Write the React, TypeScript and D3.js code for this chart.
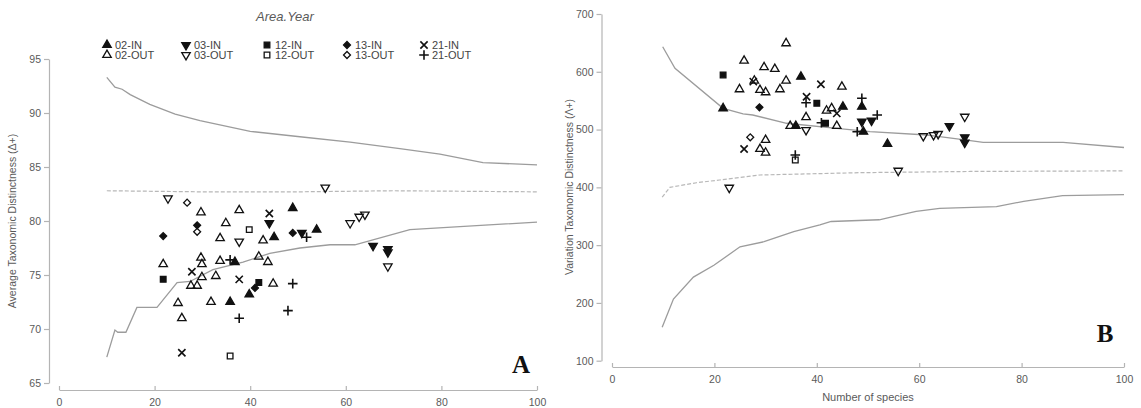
import * as d3 from 'd3';
import { useEffect, useRef } from 'react';

// Area.Year groups, order used by the legend (two rows)
const legendRows = [
  ['02-IN', '03-IN', '12-IN', '13-IN', '21-IN'],
  ['02-OUT', '03-OUT', '12-OUT', '13-OUT', '21-OUT'],
];

const speciesTicks = [0, 20, 40, 60, 80, 100];
const deltaTicks = [65, 70, 75, 80, 85, 90, 95];
const lambdaTicks = [100, 200, 300, 400, 500, 600, 700];

// Panel A: average taxonomic distinctness, [group, number of species, value]
const deltaPoints: [string, number, number][] = [
  ['13-IN', 21.8, 78.6], ['02-OUT', 21.8, 76.0], ['12-IN', 21.8, 74.6],
  ['03-OUT', 22.8, 82.1], ['13-OUT', 26.8, 81.7], ['02-OUT', 29.7, 80.8],
  ['13-IN', 28.9, 79.6], ['13-OUT', 28.9, 79.0], ['02-OUT', 34.9, 79.8],
  ['02-OUT', 37.7, 81.0], ['12-OUT', 39.8, 79.2], ['21-IN', 44.0, 80.7],
  ['03-IN', 44.0, 79.8], ['02-IN', 48.9, 81.2], ['13-IN', 48.9, 78.9],
  ['03-IN', 50.8, 78.9], ['21-OUT', 51.8, 78.5], ['02-IN', 53.9, 79.2],
  ['03-OUT', 55.7, 83.1], ['02-IN', 45.0, 78.5], ['02-OUT', 42.7, 78.2],
  ['03-OUT', 37.7, 78.1], ['02-OUT', 33.7, 78.4], ['02-OUT', 29.7, 76.6],
  ['02-OUT', 29.9, 76.0], ['21-IN', 27.8, 75.3], ['02-OUT', 29.9, 74.8],
  ['02-OUT', 27.6, 74.0], ['02-OUT', 28.9, 74.0], ['02-OUT', 32.8, 74.9],
  ['02-OUT', 33.7, 76.3], ['21-OUT', 35.8, 76.4], ['02-IN', 36.8, 76.2],
  ['21-IN', 37.7, 74.6], ['02-OUT', 41.8, 76.7], ['02-OUT', 43.7, 76.2],
  ['12-IN', 41.8, 74.3], ['13-IN', 41.0, 73.8], ['02-IN', 39.8, 73.2],
  ['02-OUT', 44.8, 74.2], ['21-OUT', 48.9, 74.2], ['21-OUT', 47.9, 71.7],
  ['02-OUT', 24.9, 72.4], ['02-OUT', 25.7, 71.0], ['02-OUT', 31.8, 72.5],
  ['02-IN', 35.8, 72.5], ['21-OUT', 37.7, 71.0], ['21-IN', 25.7, 67.8],
  ['12-OUT', 35.8, 67.5], ['03-OUT', 60.9, 79.8], ['03-OUT', 62.8, 80.4],
  ['03-OUT', 64.0, 80.6], ['03-IN', 65.7, 77.7], ['03-IN', 68.8, 77.4],
  ['03-IN', 68.8, 77.1], ['03-OUT', 68.8, 75.8],
];

// 95% probability funnel for Delta+
const deltaUpper: [number, number][] = [
  [10, 93.3], [11.7, 92.4], [13.2, 92.2], [14.9, 91.7], [19, 90.8],
  [24.3, 89.9], [29.5, 89.3], [40, 88.3], [50.4, 87.8], [60.9, 87.3],
  [71.3, 86.7], [79.7, 86.2], [88.7, 85.4], [100, 85.2],
];
const deltaMean: [number, number][] = [
  [10, 82.8], [30, 82.7], [50, 82.7], [70, 82.8], [100, 82.7],
];
const deltaLower: [number, number][] = [
  [10, 67.4], [11.7, 69.9], [12.3, 69.7], [14, 69.7], [16.3, 72.0],
  [20.5, 72.0], [24.7, 74.3], [27.4, 74.4], [32.2, 75.5], [38.5, 76.2],
  [44.1, 77.0], [50.4, 77.5], [56.7, 77.8], [61.9, 77.8], [73.4, 79.2],
  [100, 79.9],
];

// Panel B: variation in taxonomic distinctness
const lambdaPoints: [string, number, number][] = [
  ['12-IN', 21.7, 594.5], ['02-IN', 21.7, 536.8], ['02-OUT', 25.8, 619.2],
  ['02-OUT', 24.9, 569.7], ['02-OUT', 29.7, 607.8], ['02-OUT', 31.8, 604.9],
  ['02-OUT', 27.8, 584.6], ['21-IN', 27.6, 582.9], ['02-OUT', 28.9, 568.5],
  ['02-OUT', 30.0, 564.5], ['13-IN', 28.8, 538.6], ['02-OUT', 34.0, 649.3],
  ['02-OUT', 34.0, 584.6], ['02-OUT', 32.8, 569.7], ['02-IN', 36.9, 591.5],
  ['21-IN', 40.8, 578.4], ['02-OUT', 44.9, 574.2], ['21-IN', 38.0, 556.9],
  ['21-OUT', 37.9, 546.5], ['12-IN', 40.0, 545.5], ['02-OUT', 41.9, 532.7],
  ['02-OUT', 42.9, 536.8], ['02-IN', 45.1, 539.6], ['12-IN', 41.7, 510.9],
  ['21-OUT', 40.9, 511.9], ['02-OUT', 43.9, 506.2], ['21-IN', 43.9, 528.0],
  ['02-OUT', 34.8, 506.2], ['02-IN', 35.9, 506.2], ['02-OUT', 37.9, 521.3],
  ['03-OUT', 37.9, 499.3], ['12-OUT', 35.8, 447.4], ['21-OUT', 35.8, 456.0],
  ['13-OUT', 27.0, 486.6], ['21-IN', 25.8, 466.4], ['02-OUT', 30.0, 482.0],
  ['02-OUT', 28.9, 466.4], ['02-OUT', 30.0, 460.0], ['03-OUT', 22.9, 399.4],
  ['02-IN', 48.8, 539.6], ['21-OUT', 48.8, 554.1], ['03-IN', 48.8, 513.6],
  ['21-OUT', 47.9, 496.3], ['02-IN', 49.1, 496.3], ['03-IN', 50.7, 515.4],
  ['21-OUT', 51.8, 525.2], ['02-IN', 53.8, 475.0], ['03-OUT', 60.8, 488.9],
  ['03-OUT', 62.8, 490.6], ['03-OUT', 63.7, 492.4], ['03-IN', 65.9, 506.2],
  ['03-OUT', 68.9, 522.3], ['03-IN', 68.9, 486.6], ['03-IN', 68.9, 477.3],
  ['03-OUT', 55.9, 428.8],
];

const lambdaUpper: [number, number][] = [
  [9.9, 643.4], [12.3, 606], [21.7, 536.8], [25.6, 527], [27.5, 525.2],
  [34.1, 510.9], [43.9, 502.2], [50.4, 496.3], [61.5, 490.6], [64, 487.7],
  [68.9, 482], [72.5, 478], [88.1, 478], [100, 469],
];
const lambdaMean: [number, number][] = [
  [9.8, 383], [11.3, 400], [16.5, 408], [21, 412.7], [28.9, 421.4],
  [48.4, 425.4], [70, 427.5], [100, 428.5],
];
const lambdaLower: [number, number][] = [
  [9.8, 157.8], [12, 206.8], [15.9, 244.7], [19.9, 265.1], [25, 297.1],
  [29.7, 305.9], [35.5, 323.4], [40.6, 335], [42.8, 340.9], [52.2, 343.9],
  [55.1, 349.6], [59.4, 358.4], [64, 363.7], [75.1, 366.5], [80.4, 375.9],
  [88, 385.7], [100, 387.5],
];

const font = 'Arial, "Liberation Sans", sans-serif';
const axisGray = '#b4b4b4';
const textGray = '#5a5a5a';

const timesType = (d3 as any).symbolTimes || d3.symbolCross;
const plusType = (d3 as any).symbolPlus || d3.symbolCross;

// marker style for each Area.Year group
function marker(group: string) {
  const open = group.endsWith('OUT');
  const code = group.slice(0, 2);
  if (code === '02') return { type: d3.symbolTriangle, size: 31, rot: 0, open, stroke: false };
  if (code === '03') return { type: d3.symbolTriangle, size: 31, rot: 180, open, stroke: false };
  if (code === '12') return { type: d3.symbolSquare, size: 32, rot: 0, open, stroke: false };
  if (code === '13') return { type: d3.symbolSquare, size: 24, rot: 45, open, stroke: false };
  if (open) return { type: plusType, size: 32, rot: 0, open: true, stroke: true };
  return { type: timesType, size: 36, rot: 0, open: true, stroke: true };
}

function Marker({ group, cx, cy }: { group: string; cx: number; cy: number }) {
  const m = marker(group);
  const path = d3.symbol().type(m.type).size(m.size)() as string;
  return (
    <path
      d={path}
      transform={`translate(${cx},${cy}) rotate(${m.rot})`}
      fill={m.open ? 'none' : '#111'}
      stroke='#111'
      strokeWidth={m.stroke ? 1.6 : 1.3}
    />
  );
}

type PanelProps = {
  points: [string, number, number][];
  upper: [number, number][];
  mean: [number, number][];
  lower: [number, number][];
  xRange: [number, number];
  yDomain: [number, number];
  yRange: [number, number];
  yTicks: number[];
  yAxisX: number;
  xAxisY: number;
  letter: string;
  letterX: number;
  letterY: number;
};

function Panel(p: PanelProps) {
  const xRef = useRef<SVGGElement>(null);
  const yRef = useRef<SVGGElement>(null);

  const x = d3.scaleLinear().domain([0, 100]).range(p.xRange);
  const y = d3.scaleLinear().domain(p.yDomain).range(p.yRange);

  useEffect(() => {
    const xAxis = d3.axisBottom(x).tickValues(speciesTicks).tickSize(-4).tickSizeOuter(0).tickPadding(9);
    const yAxis = d3.axisLeft(y).tickValues(p.yTicks).tickSize(5).tickSizeOuter(0).tickPadding(3);
    [d3.select(xRef.current).call(xAxis as any), d3.select(yRef.current).call(yAxis as any)].forEach((g) => {
      g.attr('font-family', font).attr('font-size', 10.5);
      g.selectAll('path, line').attr('stroke', axisGray).attr('stroke-width', 1.2);
      g.selectAll('text').attr('fill', textGray);
    });
  }, []);

  const line = d3
    .line<[number, number]>()
    .x((d) => x(d[0]))
    .y((d) => y(d[1]));

  return (
    <g>
      <g ref={xRef} transform={`translate(0,${p.xAxisY})`} />
      <g ref={yRef} transform={`translate(${p.yAxisX},0)`} />
      <path d={line(p.upper) as string} fill='none' stroke='#9c9c9c' strokeWidth={1.3} />
      <path d={line(p.lower) as string} fill='none' stroke='#9c9c9c' strokeWidth={1.3} />
      <path d={line(p.mean) as string} fill='none' stroke='#b8b8b8' strokeWidth={1.2} strokeDasharray='4 2' />
      {p.points.map((d, i) => (
        <Marker key={i} group={d[0]} cx={x(d[1])} cy={y(d[2])} />
      ))}
      <text
        x={p.letterX}
        y={p.letterY}
        fontFamily='"Liberation Serif", "Times New Roman", serif'
        fontWeight='bold'
        fontSize={25}
        textAnchor='middle'
        fill='#111'
      >
        {p.letter}
      </text>
    </g>
  );
}

const legendX = [107, 186, 267, 347, 424];
const legendY = [45, 55];

export default function App() {
  useEffect(() => {
    document.body.style.margin = '0';
  }, []);

  return (
    <svg width={1141} height={408} style={{ display: 'block', background: '#fff' }}>
      <Panel
        points={deltaPoints}
        upper={deltaUpper}
        mean={deltaMean}
        lower={deltaLower}
        xRange={[59, 537]}
        yDomain={[65, 95]}
        yRange={[383, 59]}
        yTicks={deltaTicks}
        yAxisX={49}
        xAxisY={390}
        letter='A'
        letterX={521}
        letterY={373}
      />
      <Panel
        points={lambdaPoints}
        upper={lambdaUpper}
        mean={lambdaMean}
        lower={lambdaLower}
        xRange={[612, 1124]}
        yDomain={[100, 700]}
        yRange={[360.7, 14]}
        yTicks={lambdaTicks}
        yAxisX={601.5}
        xAxisY={367}
        letter='B'
        letterX={1105}
        letterY={342}
      />

      {/* axis titles */}
      <text
        transform='translate(16,221) rotate(-90)'
        textAnchor='middle'
        fontFamily={font}
        fontSize={10.5}
        fill={textGray}
      >
        Average Taxonomic Distinctness (Δ+)
      </text>
      <text
        transform='translate(573,187) rotate(-90)'
        textAnchor='middle'
        fontFamily={font}
        fontSize={10.5}
        fill={textGray}
      >
        Variation Taxonomic Distinctness (Λ+)
      </text>
      <text x={868} y={401} textAnchor='middle' fontFamily={font} fontSize={11} fill={textGray}>
        Number of species
      </text>

      {/* legend */}
      <text x={285} y={21} textAnchor='middle' fontFamily={font} fontSize={13} fontStyle='italic' fill={textGray}>
        Area.Year
      </text>
      {legendRows.map((row, r) =>
        row.map((g, c) => (
          <g key={g}>
            <Marker group={g} cx={legendX[c]} cy={legendY[r]} />
            <text x={legendX[c] + 8} y={legendY[r] + 4} fontFamily={font} fontSize={11} fill='#444'>
              {g}
            </text>
          </g>
        )),
      )}
    </svg>
  );
}
